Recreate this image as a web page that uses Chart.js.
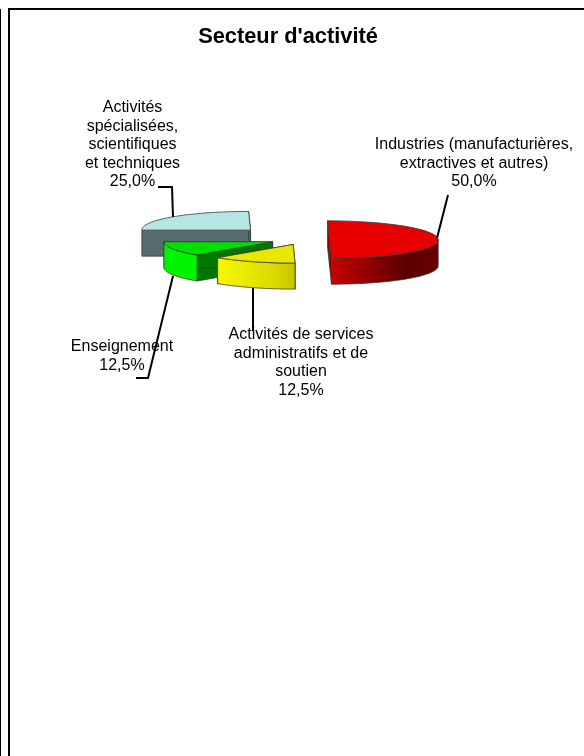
<!DOCTYPE html>
<html lang="fr">
<head>
<meta charset="utf-8">
<title>Secteur d'activité</title>
<script src="https://cdn.jsdelivr.net/npm/chart.js@4"></script>
<style>
  html, body { margin: 0; padding: 0; background: #fff; overflow: hidden; }
  #edge { position: absolute; left: 0; top: 9px; width: 1px; height: 760px; background: #000; }
  #frame { position: absolute; left: 8px; top: 8px; width: 600px; height: 800px; border: 2px solid #000; }
  #sectorChart { position: absolute; left: 0; top: 0; }
</style>
</head>
<body>
<div id="edge"></div>
<div id="frame"></div>
<canvas id="sectorChart" width="576" height="756"></canvas>
<script>
'use strict';

// Data, clockwise from the top of the pie

let categories = [
  'Industries (manufacturières, extractives et autres)',
  'Activités de services administratifs et de soutien',
  'Enseignement',
  'Activités spécialisées, scientifiques et techniques'
];
let sectorValues = [50, 12.5, 12.5, 25];
let labelLines = [
  ['Industries (manufacturières,', 'extractives et autres)'],
  ['Activités de services', 'administratifs et de', 'soutien'],
  ['Enseignement'],
  ['Activités', 'spécialisées,', 'scientifiques', 'et techniques']
];

// Look of the fake 3D pie

const pieX = 305;
const pieY = 239.5;
const tilt = 0.172;
const shear = 0.018;
const depth = 26;
const pieRadius = 108.7;
const explode = [24.5, 31, 35, 77];
const topColors = ['#e60000', '#e8e800', '#00e000', '#b7e4e4'];
const wallColors = ['#8a0000', '#a8a800', '#007800', '#566c6e'];
const sideStops = [
  ['#c80000', '#5a0000', '#6a0000'],
  ['#f8f800', '#dcdc00', '#c4c400'],
  ['#00f400', '#00f400', '#00f400'],
  ['#566c6e', '#566c6e', '#566c6e']
];
const outlineColor = '#3a3a3a';

// Label layout: centre x and first line y, then the leader polyline
const labelPos = [
  { x: 474, y: 145 },
  { x: 301, y: 335 },
  { x: 122, y: 347 },
  { x: 132.5, y: 108 }
];
const leaders = [
  [[437, 238], [448, 195]],
  [[253, 288], [253, 331]],
  [[173, 276], [148, 378], [136, 378]],
  [[173, 217], [172, 187], [158, 187]]
];

function apexOf(el, i) {
  let mid = (el.startAngle + el.endAngle) / 2;
  return {
    x: pieX + Math.cos(mid) * explode[i],
    y: pieY + Math.sin(mid) * explode[i] * tilt
  };
}

function rimPoint(apex, angle, radius) {
  let dy = Math.sin(angle) * radius;
  return { x: apex.x + Math.cos(angle) * radius + dy * shear, y: apex.y + dy * tilt };
}

function drawWall(ctx, a, b, color) {
  ctx.beginPath();
  ctx.moveTo(a.x, a.y);
  ctx.lineTo(b.x, b.y);
  ctx.lineTo(b.x, b.y + depth);
  ctx.lineTo(a.x, a.y + depth);
  ctx.closePath();
  ctx.fillStyle = color;
  ctx.fill();
  ctx.stroke();
}

function drawOuterWall(ctx, el, apex, i) {
  // only the part of the rim that faces the viewer
  let from = Math.max(el.startAngle, 0);
  let to = Math.min(el.endAngle, Math.PI);
  if (to <= from) {
    return;
  }
  let steps = 48;
  let pts = [];
  for (let s = 0; s <= steps; s++) {
    pts.push(rimPoint(apex, from + (to - from) * s / steps, el.outerRadius));
  }
  let xs = pts.map(p => p.x);
  let grad = ctx.createLinearGradient(Math.min(...xs), 0, Math.max(...xs), 0);
  grad.addColorStop(0, sideStops[i][0]);
  grad.addColorStop(0.7, sideStops[i][1]);
  grad.addColorStop(1, sideStops[i][2]);
  ctx.beginPath();
  pts.forEach((p, k) => (k ? ctx.lineTo(p.x, p.y) : ctx.moveTo(p.x, p.y)));
  pts.slice().reverse().forEach(p => ctx.lineTo(p.x, p.y + depth));
  ctx.closePath();
  ctx.fillStyle = grad;
  ctx.fill();
  ctx.stroke();
}

function outlineTop(ctx, el, apex) {
  let steps = 48;
  ctx.beginPath();
  ctx.moveTo(apex.x, apex.y);
  for (let s = 0; s <= steps; s++) {
    let p = rimPoint(apex, el.startAngle + (el.endAngle - el.startAngle) * s / steps, el.outerRadius);
    ctx.lineTo(p.x, p.y);
  }
  ctx.closePath();
  ctx.stroke();
}

const pie3d = {
  id: 'pie3d',
  beforeDatasetDraw(chart, args) {
    let ctx = chart.ctx;
    let arcs = args.meta.data;
    let order = arcs.map((el, i) => i).sort((a, b) => apexOf(arcs[a], a).y - apexOf(arcs[b], b).y);
    order.forEach(i => {
      let el = arcs[i];
      let apex = apexOf(el, i);
      ctx.save();
      ctx.strokeStyle = outlineColor;
      ctx.lineWidth = 0.8;
      drawWall(ctx, rimPoint(apex, el.startAngle, el.outerRadius), apex, wallColors[i]);
      drawWall(ctx, rimPoint(apex, el.endAngle, el.outerRadius), apex, wallColors[i]);
      drawOuterWall(ctx, el, apex, i);
      ctx.save();
      ctx.transform(1, 0, shear, tilt, apex.x, apex.y);
      ctx.translate(-el.x, -el.y);
      el.draw(ctx);
      ctx.restore();
      outlineTop(ctx, el, apex);
      ctx.restore();
    });
    return false;
  },
  afterDraw(chart) {
    let ctx = chart.ctx;
    let total = sectorValues.reduce((sum, v) => sum + v, 0);
    ctx.save();
    ctx.font = '16px "Liberation Sans"';
    ctx.fillStyle = '#000';
    ctx.textAlign = 'center';
    ctx.textBaseline = 'middle';
    labelLines.forEach((lines, i) => {
      let percent = (sectorValues[i] / total * 100).toFixed(1).replace('.', ',') + '%';
      lines.concat(percent).forEach((line, k) => {
        ctx.fillText(line, labelPos[i].x, labelPos[i].y + k * 18.5);
      });
    });
    ctx.strokeStyle = '#000';
    ctx.lineWidth = 2;
    leaders.forEach(points => {
      ctx.beginPath();
      points.forEach((p, k) => (k ? ctx.lineTo(p[0], p[1]) : ctx.moveTo(p[0], p[1])));
      ctx.stroke();
    });
    ctx.restore();
  }
};

new Chart(document.getElementById('sectorChart'), {
  type: 'pie',
  data: {
    labels: categories,
    datasets: [{
      data: sectorValues,
      backgroundColor: topColors,
      borderWidth: 0
    }]
  },
  options: {
    responsive: false,
    animation: false,
    radius: pieRadius,
    events: [],
    plugins: {
      legend: { display: false },
      tooltip: { enabled: false },
      title: {
        display: true,
        text: "Secteur d'activité",
        color: '#000',
        font: { family: '"Liberation Sans"', size: 21.8, weight: 'bold' },
        padding: { top: 24, bottom: 10 }
      }
    }
  },
  plugins: [pie3d]
});
</script>
</body>
</html>
